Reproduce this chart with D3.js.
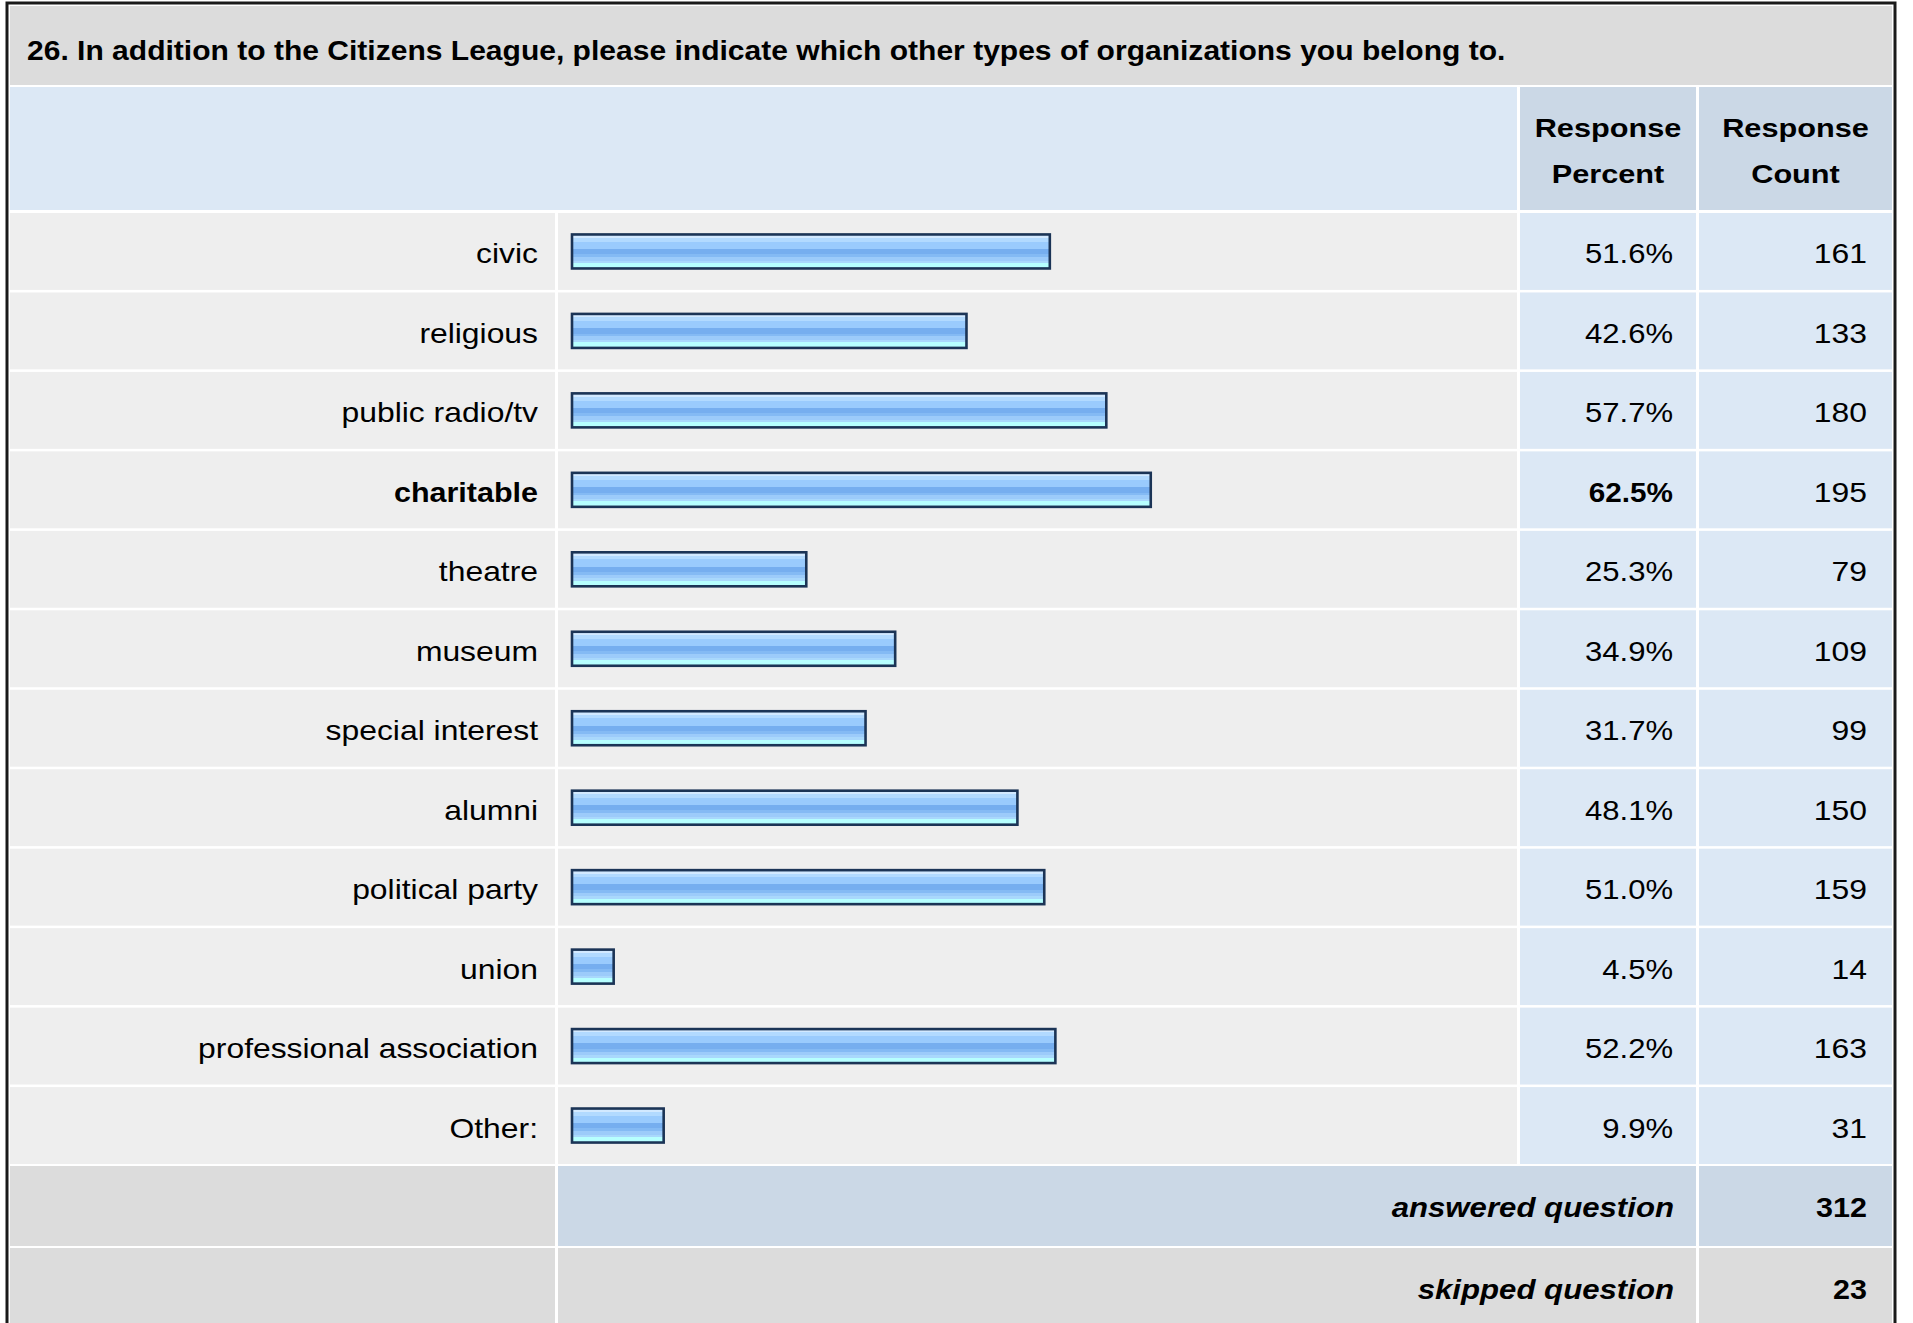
<!DOCTYPE html>
<meta charset="utf-8">
<script src="https://d3js.org/d3.v7.min.js"></script>
<style>
  body { margin: 0; background: #fff; }
  text { font-family: "Liberation Sans", Arial, sans-serif; fill: #000; }
</style>
<div id="vis"></div>
<script>

    var question = "26. In addition to the Citizens League, please indicate which other types of organizations you belong to.";
    var categories = ["civic", "religious", "public radio/tv", "charitable", "theatre", "museum",
        "special interest", "alumni", "political party", "union", "professional association", "Other:"];
    var percents = [51.6, 42.6, 57.7, 62.5, 25.3, 34.9, 31.7, 48.1, 51.0, 4.5, 52.2, 9.9];
    var counts = [161, 133, 180, 195, 79, 109, 99, 150, 159, 14, 163, 31];
    var headers = [["Response", "Percent"], ["Response", "Count"]];
    var summaryLabels = ["answered question", "skipped question"];
    var summaryValues = [312, 23];

    var width = 1913, height = 1323;
    var sx = 1.18;     // the source text is a bit wider than plain Arial
    var sxBold = 1.13;

    // column edges
    var col = { left: 10, labelEnd: 555, barStart: 558, barEnd: 1517, pctStart: 1520, pctEnd: 1696, cntStart: 1699, cntEnd: 1892 };

    var svg = d3.select("#vis")
        .append("svg")
        .attr("width", width)
        .attr("height", height);

    // bar gradient
    var defs = svg.append("defs");
    var grad = defs.append("linearGradient")
        .attr("id", "barGrad")
        .attr("x1", 0).attr("y1", 0).attr("x2", 0).attr("y2", 1);
    var stops = [
        [0, "#d2e9ff"], [0.1, "#d2e9ff"], [0.1, "#b2daff"], [0.21, "#b2daff"],
        [0.21, "#9acbfd"], [0.42, "#9acbfd"], [0.42, "#76aeef"], [0.58, "#76aeef"],
        [0.58, "#84baf4"], [0.66, "#84baf4"], [0.66, "#9ccbfa"], [0.77, "#9ccbfa"],
        [0.77, "#a9d8fc"], [0.84, "#a9d8fc"], [0.84, "#b6ffff"], [1, "#b6ffff"]
    ];
    stops.forEach(function (s) {
        grad.append("stop").attr("offset", s[0]).attr("stop-color", s[1]);
    });

    // outer frame
    svg.append("rect")
        .attr("x", 7).attr("y", 3)
        .attr("width", 1888).attr("height", 1340)
        .style("fill", "#fff")
        .style("stroke", "#1a1a1a")
        .style("stroke-width", 3);

    // title band
    svg.append("rect")
        .attr("x", col.left).attr("y", 6)
        .attr("width", col.cntEnd - col.left).attr("height", 79)
        .style("fill", "#dcdcdc");
    svg.append("text")
        .attr("transform", "translate(27,60) scale(1.113,1)")
        .style("font-size", "27px")
        .style("font-weight", "bold")
        .text(question);

    // header row
    svg.append("rect")
        .attr("x", col.left).attr("y", 87)
        .attr("width", col.barEnd - col.left).attr("height", 123)
        .style("fill", "#dce8f5");
    var headerCols = [[col.pctStart, col.pctEnd], [col.cntStart, col.cntEnd]];
    headerCols.forEach(function (c, i) {
        svg.append("rect")
            .attr("x", c[0]).attr("y", 87)
            .attr("width", c[1] - c[0]).attr("height", 123)
            .style("fill", "#cbd8e6");
        headers[i].forEach(function (line, j) {
            svg.append("text")
                .attr("transform", "translate(" + ((c[0] + c[1]) / 2) + "," + (137 + j * 46) + ") scale(" + sx + ",1)")
                .attr("text-anchor", "middle")
                .style("font-size", "26px")
                .style("font-weight", "bold")
                .text(line);
        });
    });

    // row and bar scales
    var y = d3.scaleBand()
        .domain(categories)
        .range([213, 1164])
        .paddingInner(0.032)
        .paddingOuter(0);
    var x = d3.scaleLinear()
        .domain([0, 100])
        .range([572, 1498]);

    var rows = categories.map(function (c, i) {
        return { cat: c, pct: percents[i], cnt: counts[i] };
    });
    var maxPct = d3.max(percents);
    var isMax = function (d) { return d.pct === maxPct; };

    var row = svg.selectAll(".row")
        .data(rows)
        .enter()
        .append("g")
        .attr("class", "row")
        .attr("transform", function (d) { return "translate(0," + y(d.cat) + ")"; });

    var bh = y.bandwidth();

    row.append("rect")
        .attr("x", col.left).attr("width", col.labelEnd - col.left)
        .attr("height", bh).style("fill", "#eeeeee");
    row.append("rect")
        .attr("x", col.barStart).attr("width", col.barEnd - col.barStart)
        .attr("height", bh).style("fill", "#eeeeee");
    row.append("rect")
        .attr("x", col.pctStart).attr("width", col.pctEnd - col.pctStart)
        .attr("height", bh).style("fill", "#dce8f5");
    row.append("rect")
        .attr("x", col.cntStart).attr("width", col.cntEnd - col.cntStart)
        .attr("height", bh).style("fill", "#dce8f5");

    // bars
    row.append("rect")
        .attr("x", x(0))
        .attr("y", bh / 2 - 17)
        .attr("width", function (d) { return x(d.pct) - x(0); })
        .attr("height", 34)
        .style("fill", "url(#barGrad)")
        .style("stroke", "#1b3456")
        .style("stroke-width", 2.6);

    var base = bh / 2 + 12;
    row.append("text")
        .attr("transform", function (d) { return "translate(538," + base + ") scale(" + (isMax(d) ? sxBold : sx) + ",1)"; })
        .attr("text-anchor", "end")
        .style("font-size", "27px")
        .style("font-weight", function (d) { return isMax(d) ? "bold" : "normal"; })
        .text(function (d) { return d.cat; });
    row.append("text")
        .attr("transform", function (d) { return "translate(1673," + base + ") scale(" + (isMax(d) ? 1.10 : 1.15) + ",1)"; })
        .attr("text-anchor", "end")
        .style("font-size", "27px")
        .style("font-weight", function (d) { return isMax(d) ? "bold" : "normal"; })
        .text(function (d) { return d3.format(".1f")(d.pct) + "%"; });
    row.append("text")
        .attr("transform", "translate(1867," + base + ") scale(" + sx + ",1)")
        .attr("text-anchor", "end")
        .style("font-size", "27px")
        .text(function (d) { return d.cnt; });

    // summary rows
    var sumY = [1166, 1248];
    var sumFill = ["#cbd8e6", "#dcdcdc"];
    summaryLabels.forEach(function (lab, i) {
        var g = svg.append("g").attr("transform", "translate(0," + sumY[i] + ")");
        var h = 80;
        g.append("rect").attr("x", col.left).attr("width", col.labelEnd - col.left)
            .attr("height", h).style("fill", "#dcdcdc");
        g.append("rect").attr("x", col.barStart).attr("width", col.pctEnd - col.barStart)
            .attr("height", h).style("fill", sumFill[i]);
        g.append("rect").attr("x", col.cntStart).attr("width", col.cntEnd - col.cntStart)
            .attr("height", h).style("fill", sumFill[i]);
        g.append("text")
            .attr("transform", "translate(1674," + (h / 2 + 11) + ") scale(1.155,1)")
            .attr("text-anchor", "end")
            .style("font-size", "27px")
            .style("font-weight", "bold")
            .style("font-style", "italic")
            .text(lab);
        g.append("text")
            .attr("transform", "translate(1867," + (h / 2 + 11) + ") scale(" + sxBold + ",1)")
            .attr("text-anchor", "end")
            .style("font-size", "27px")
            .style("font-weight", "bold")
            .text(summaryValues[i]);
    });

</script>
